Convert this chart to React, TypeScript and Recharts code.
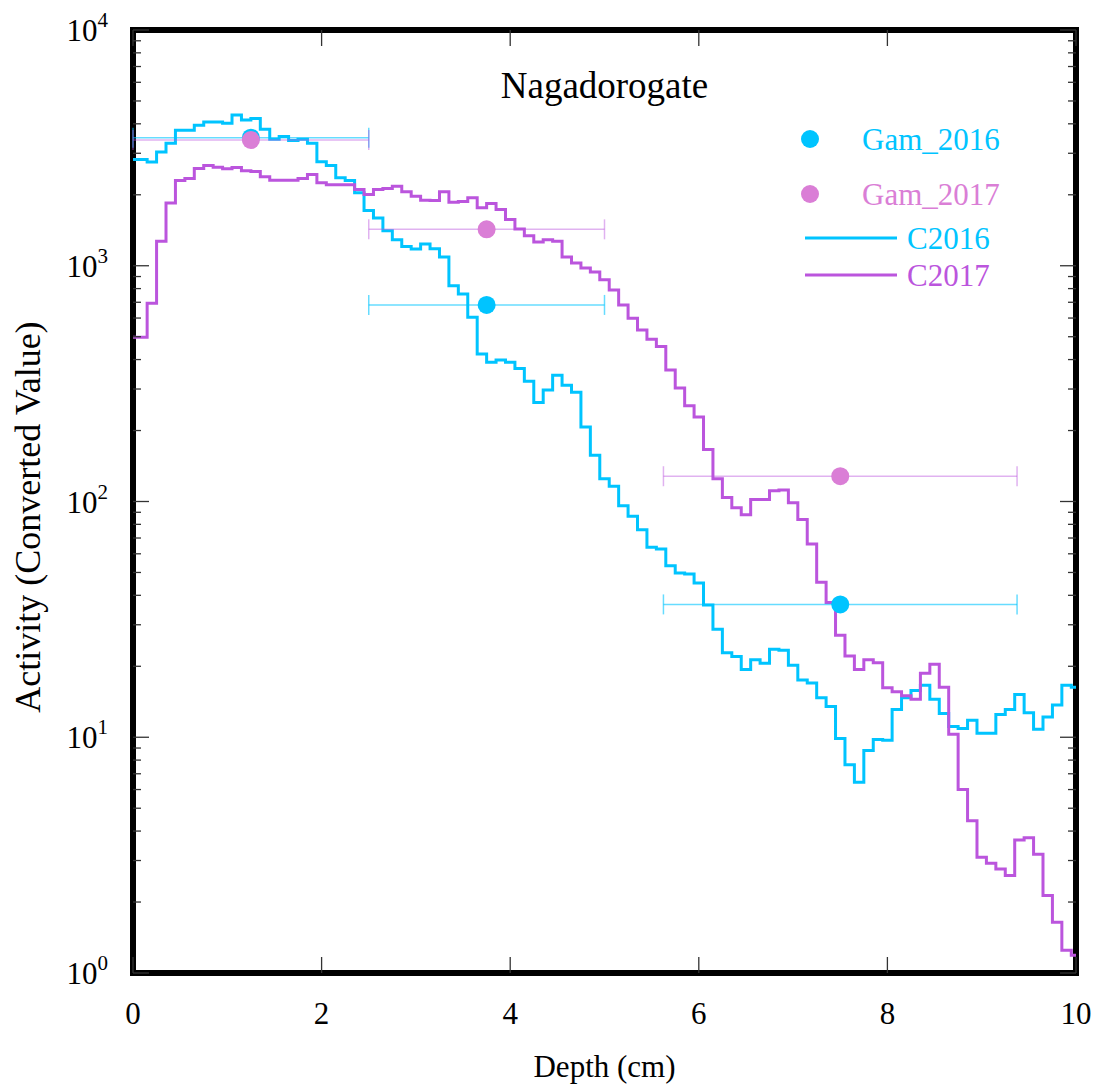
import React from 'react';
import { ComposedChart, Line, Scatter, ErrorBar, XAxis, YAxis, ReferenceArea, Legend, Label } from 'recharts';

// depth bins (cm), one value per 0.1 cm
const DEPTH_CM = [
  0.0, 0.1, 0.2, 0.3, 0.4, 0.5, 0.6, 0.7, 0.8, 0.9,
  1.0, 1.1, 1.2, 1.3, 1.4, 1.5, 1.6, 1.7, 1.8, 1.9,
  2.0, 2.1, 2.2, 2.3, 2.4, 2.5, 2.6, 2.7, 2.8, 2.9,
  3.0, 3.1, 3.2, 3.3, 3.4, 3.5, 3.6, 3.7, 3.8, 3.9,
  4.0, 4.1, 4.2, 4.3, 4.4, 4.5, 4.6, 4.7, 4.8, 4.9,
  5.0, 5.1, 5.2, 5.3, 5.4, 5.5, 5.6, 5.7, 5.8, 5.9,
  6.0, 6.1, 6.2, 6.3, 6.4, 6.5, 6.6, 6.7, 6.8, 6.9,
  7.0, 7.1, 7.2, 7.3, 7.4, 7.5, 7.6, 7.7, 7.8, 7.9,
  8.0, 8.1, 8.2, 8.3, 8.4, 8.5, 8.6, 8.7, 8.8, 8.9,
  9.0, 9.1, 9.2, 9.3, 9.4, 9.5, 9.6, 9.7, 9.8, 9.9,
  10.0,
];

const C2016 = [
  2825, 2825, 2752, 3035, 3305, 3753, 3753, 3942, 4070, 4070,
  4020, 4360, 4150, 4210, 3790, 3437, 3530, 3395, 3437, 3305,
  2762, 2665, 2362, 2300, 2038, 1714, 1596, 1409, 1290, 1208,
  1178, 1237, 1180, 1089, 822, 758, 605, 422, 390, 398,
  390, 367, 324, 263, 297, 343, 311, 291, 207, 157,
  125, 116, 96, 86.6, 75.8, 63.9, 62.9, 53.4, 49.8, 49.3,
  45.1, 36.4, 28.7, 22.8, 22.0, 19.4, 21.3, 20.6, 23.6, 23.4,
  20.2, 17.5, 17.0, 14.7, 13.5, 9.87, 7.65, 6.44, 8.78, 9.78,
  9.7, 13.1, 14.7, 15.8, 16.6, 14.5, 12.6, 11.1, 10.9, 11.8,
  10.4, 10.4, 12.5, 13.1, 15.2, 12.7, 10.8, 12.2, 13.7, 16.6,
  16.3,
];

const C2017 = [
  497, 497, 694, 1269, 1848, 2300, 2345, 2586, 2665, 2615,
  2578, 2612, 2530, 2512, 2385, 2307, 2307, 2307, 2345, 2440,
  2248, 2205, 2205, 2205, 2106, 2005, 2106, 2127, 2175, 2059,
  1972, 1896, 1890, 2059, 1860, 1875, 1942, 1761, 1836, 1731,
  1570, 1433, 1342, 1262, 1290, 1270, 1089, 1026, 978, 940,
  872, 790, 682, 599, 534, 488, 454, 361, 303, 255,
  228, 166, 125, 104, 94, 87.8, 102, 102, 111, 112,
  98.7, 83.8, 66, 45.4, 37.3, 27.1, 22.1, 19.4, 21.3, 20.7,
  16.2, 15.6, 15.0, 14.5, 18.7, 20.4, 16.3, 10.3, 6.01, 4.42,
  3.10, 2.92, 2.76, 2.59, 3.67, 3.75, 3.19, 2.13, 1.64, 1.25,
  1.19,
];

// gamma spectrometry samples: centre depth, half width of the slice
const GAM_DEPTH = [1.25, 3.75, 7.5];
const GAM_HALF_WIDTH = [1.25, 1.25, 1.875];
const GAM_2016 = [3493, 682, 36.6];
const GAM_2017 = [3415, 1427, 128];

const X_TICKS = [0, 2, 4, 6, 8, 10];
const Y_MAJOR = [1, 10, 100, 1000, 10000];
const Y_EXPONENT = ['0', '1', '2', '3', '4'];
const Y_MINOR_STEPS = [2, 3, 4, 5, 6, 7, 8, 9];

const CYAN = '#00c4ff';
const PURPLE = '#bb55dd';
const ORCHID = '#da7ed6';
const FONT = '"Liberation Serif", "Times New Roman", serif';

const W = 1098;
const H = 1086;
const PLOT_LEFT = 133;
const PLOT_TOP = 30;
const PLOT_RIGHT = 1076;
const PLOT_BOTTOM = 973;

const chartData = DEPTH_CM.map((x, i) => ({ x, c2016: C2016[i], c2017: C2017[i] }));
const gam16 = GAM_DEPTH.map((x, i) => ({ x, y: GAM_2016[i], err: GAM_HALF_WIDTH[i] }));
const gam17 = GAM_DEPTH.map((x, i) => ({ x, y: GAM_2017[i], err: GAM_HALF_WIDTH[i] }));

const yTicks = [
  ...Y_MAJOR,
  ...Y_MAJOR.slice(0, -1).flatMap(d => Y_MINOR_STEPS.map(m => m * d)),
].sort((a, b) => a - b);

function XTick({ x, y, payload }: any) {
  return (
    <g>
      <line x1={x} x2={x} y1={PLOT_BOTTOM} y2={PLOT_BOTTOM - 16} stroke="#333" strokeWidth={1.3} />
      <line x1={x} x2={x} y1={PLOT_TOP} y2={PLOT_TOP + 16} stroke="#333" strokeWidth={1.3} />
      <text x={x} y={y + 51} textAnchor="middle" fontSize={31} fontFamily={FONT} fill="#000">
        {payload.value}
      </text>
    </g>
  );
}

function YTick({ x, y, payload }: any) {
  const idx = Y_MAJOR.indexOf(payload.value);
  const len = idx >= 0 ? 16 : 8;
  return (
    <g>
      <line x1={PLOT_LEFT} x2={PLOT_LEFT + len} y1={y} y2={y} stroke="#333" strokeWidth={1.3} />
      <line x1={PLOT_RIGHT} x2={PLOT_RIGHT - len} y1={y} y2={y} stroke="#333" strokeWidth={1.3} />
      {idx >= 0 && (
        <text x={x - 25} y={y + 11} textAnchor="end" fontFamily={FONT} fill="#000">
          <tspan fontSize={31}>10</tspan>
          <tspan fontSize={21} dy={-14}>{Y_EXPONENT[idx]}</tspan>
        </text>
      )}
    </g>
  );
}

const dotShape = (color: string) => (p: any) => <circle cx={p.cx} cy={p.cy} r={9} fill={color} />;

const LEGEND_ITEMS = [
  { name: 'Gam_2016', color: CYAN, kind: 'dot' },
  { name: 'Gam_2017', color: ORCHID, kind: 'dot' },
  { name: 'C2016', color: CYAN, kind: 'line' },
  { name: 'C2017', color: PURPLE, kind: 'line' },
];
const LEGEND_ROWS = [29, 84, 128, 165];

function renderLegend() {
  return (
    <svg width={270} height={200} style={{ display: 'block' }}>
      {LEGEND_ITEMS.map((item, i) => {
        const cy = LEGEND_ROWS[i];
        return (
          <g key={item.name}>
            {item.kind === 'dot' ? (
              <circle cx={20} cy={cy} r={9} fill={item.color} />
            ) : (
              <line x1={15} x2={107} y1={cy} y2={cy} stroke={item.color} strokeWidth={3} />
            )}
            <text
              x={item.kind === 'dot' ? 72 : 117}
              y={cy + 11}
              fontSize={31}
              fontFamily={FONT}
              fill={item.color}
            >
              {item.name}
            </text>
          </g>
        );
      })}
    </svg>
  );
}

export default function App() {
  return (
    <div style={{ width: W, height: H, background: '#fff' }}>
      <style>{'body{margin:0}'}</style>
      <ComposedChart width={W} height={H} data={chartData} margin={{ top: PLOT_TOP, right: W - PLOT_RIGHT, left: 0, bottom: 0 }}>
        <XAxis
          dataKey="x"
          type="number"
          domain={[0, 10]}
          allowDataOverflow
          ticks={X_TICKS}
          interval={0}
          tick={XTick}
          tickLine={false}
          axisLine={false}
          tickSize={0}
          tickMargin={0}
          height={H - PLOT_BOTTOM}
        >
          <Label
            content={() => (
              <text x={(PLOT_LEFT + PLOT_RIGHT) / 2} y={1077} textAnchor="middle" fontSize={31} fontFamily={FONT} fill="#000">
                Depth (cm)
              </text>
            )}
          />
        </XAxis>
        <YAxis
          type="number"
          scale="log"
          domain={[1, 10000]}
          allowDataOverflow
          ticks={yTicks}
          interval={0}
          tick={YTick}
          tickLine={false}
          axisLine={false}
          tickSize={0}
          tickMargin={0}
          width={PLOT_LEFT}
        >
          <Label
            content={() => (
              <text
                x={28}
                y={517}
                transform="rotate(-90, 28, 517)"
                textAnchor="middle"
                dominantBaseline="central"
                fontSize={36}
                fontFamily={FONT}
                fill="#000"
              >
                Activity (Converted Value)
              </text>
            )}
          />
        </YAxis>
        <Line dataKey="c2016" name="C2016" type="step" stroke={CYAN} strokeWidth={3} dot={false} activeDot={false} isAnimationActive={false} />
        <Line dataKey="c2017" name="C2017" type="step" stroke={PURPLE} strokeWidth={3} dot={false} activeDot={false} isAnimationActive={false} />
        <Scatter data={gam16} dataKey="y" name="Gam_2016" fill={CYAN} shape={dotShape(CYAN)} isAnimationActive={false}>
          <ErrorBar dataKey="err" direction="x" width={10} stroke="rgba(0,196,255,0.6)" strokeWidth={1.5} />
        </Scatter>
        <Scatter data={gam17} dataKey="y" name="Gam_2017" fill={ORCHID} shape={dotShape(ORCHID)} isAnimationActive={false}>
          <ErrorBar dataKey="err" direction="x" width={10} stroke="rgba(187,85,221,0.45)" strokeWidth={1.5} />
        </Scatter>
        <ReferenceArea
          x1={0}
          x2={10}
          y1={1}
          y2={10000}
          fill="none"
          stroke="#000"
          strokeWidth={6}
          ifOverflow="visible"
          label={{
            content: ({ viewBox }: any) => (
              <text x={viewBox.x + viewBox.width / 2} y={viewBox.y + 68} textAnchor="middle" fontSize={37} fontFamily={FONT} fill="#000">
                Nagadorogate
              </text>
            ),
          }}
        />
        <Legend
          layout="vertical"
          align="center"
          verticalAlign="middle"
          content={renderLegend}
          wrapperStyle={{ left: 790, top: 110, width: 270, height: 200 }}
        />
      </ComposedChart>
    </div>
  );
}
